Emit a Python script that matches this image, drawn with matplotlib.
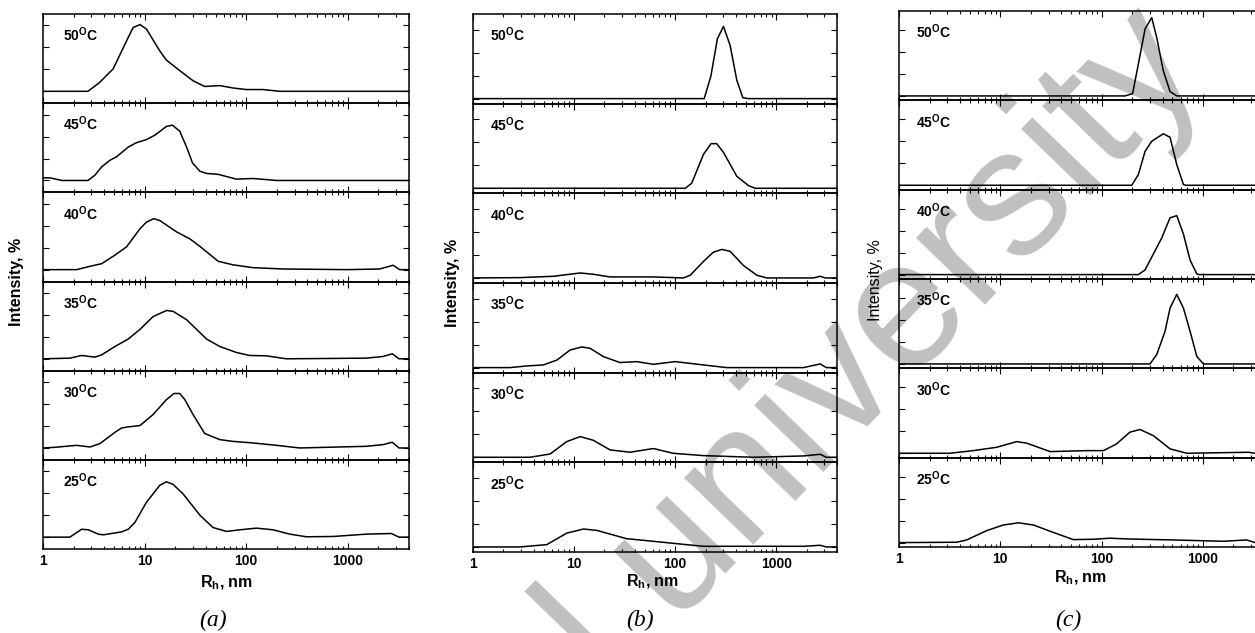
import matplotlib
matplotlib.use("Agg")
import matplotlib.pyplot as plt
from matplotlib.ticker import LogLocator, NullFormatter

plt.rcParams["font.family"] = "Liberation Sans"
plt.rcParams["mathtext.fontset"] = "custom"
plt.rcParams["mathtext.rm"] = "Liberation Sans"
plt.rcParams["mathtext.bf"] = "Liberation Sans:bold"
plt.rcParams["mathtext.it"] = "Liberation Sans:italic"

temps = ["50", "45", "40", "35", "30", "25"]
tick_vals = [1, 10, 100, 1000]
tick_text = ["1", "10", "100", "1000"]

# ---- panel (a) ----
a50_rh = [1, 2.77, 3.6, 4.9, 6.65, 7.7, 9.0, 10.4, 14.1, 16.4, 22.2, 30, 39, 55, 74, 100, 146, 214, 4000]
a50_i = [0, 0, 2.0, 5.1, 11.5, 14.5, 15.2, 14.2, 9.2, 7.1, 4.7, 2.4, 1.1, 1.3, 0.76, 0.4, 0.4, 0, 0]
a45_rh = [1, 1.17, 1.53, 2.77, 3.24, 3.78, 4.56, 5.3, 6.9, 8.3, 10.4, 12.6, 16.4, 18.8, 22.2, 25.9, 29.6, 35, 40.7, 53, 80, 117, 199, 4000]
a45_i = [0.6, 0.6, 0, 0, 1.2, 3.1, 4.6, 5.4, 7.6, 8.6, 9.3, 10.3, 12.3, 12.6, 11.2, 7.6, 4.0, 2.1, 1.6, 1.4, 0.3, 0.45, 0, 0]
a40_rh = [1, 2.14, 2.9, 3.78, 5.1, 6.65, 9.0, 10.4, 12.3, 14.1, 20.6, 27.9, 35, 53, 74, 117, 231, 1000, 2060, 2790, 3240, 4000]
a40_i = [0, 0, 0.76, 1.36, 3.3, 5.2, 9.3, 10.8, 11.6, 11.2, 8.6, 7.0, 5.3, 1.9, 1.1, 0.45, 0.15, 0, 0.15, 1.0, 0, 0]
a35_rh = [1, 1.84, 2.4, 3.24, 3.78, 5.1, 6.9, 9.0, 12.1, 16.4, 19.1, 25.9, 40.7, 55, 80, 108, 158, 249, 1520, 2220, 2740, 3190, 4000]
a35_i = [0, 0.15, 0.76, 0.38, 0.9, 2.8, 4.5, 6.7, 9.6, 11.0, 10.8, 8.9, 4.5, 2.8, 1.44, 0.76, 0.68, 0, 0.15, 0.53, 1.14, 0, 0]
a30_rh = [1, 1.31, 2.14, 2.9, 3.63, 5.1, 5.94, 6.9, 9.0, 12.1, 16.4, 19.4, 22.2, 24.9, 30, 39, 55, 74, 117, 199, 337, 1520, 2220, 2740, 3190, 4000]
a30_i = [0, 0.15, 0.6, 0.23, 1.0, 3.56, 4.55, 4.8, 5.1, 7.6, 11.0, 12.4, 12.4, 11.0, 7.6, 3.3, 1.9, 1.5, 1.14, 0.6, 0, 0.38, 0.76, 1.3, 0, 0]
a25_rh = [1, 1.84, 2.4, 2.8, 3.5, 3.92, 5.94, 6.9, 8.0, 10.4, 14.1, 16.4, 19.1, 24, 35, 47, 64, 86.5, 126, 184, 269, 392, 716, 1520, 2680, 3190, 4000]
a25_i = [0, 0, 1.8, 1.67, 0.68, 0.53, 1.2, 1.8, 3.3, 7.9, 11.8, 12.6, 12.0, 9.8, 5.0, 2.2, 1.3, 1.67, 2.05, 1.67, 0.68, 0.08, 0.15, 0.68, 0.83, 0, 0]

# ---- panel (b) ----
b50_rh = [1, 194, 226, 262, 301, 350, 408, 468, 532, 4000]
b50_i = [0, 0, 4.9, 13.0, 15.7, 11.6, 4.0, 0.2, 0, 0]
b45_rh = [1, 126, 146, 191, 227, 258, 301, 408, 532, 620, 4000]
b45_i = [0, 0, 1.1, 7.4, 9.7, 9.7, 7.8, 2.6, 0.58, 0, 0]
b40_rh = [1, 2.92, 6.24, 11.5, 15.5, 22.7, 61, 121, 141, 191, 239, 290, 350, 475, 645, 810, 2340, 2730, 3050, 4000]
b40_i = [0, 0.07, 0.36, 1.08, 0.8, 0.22, 0.22, 0, 0.58, 3.6, 5.6, 6.2, 5.8, 2.7, 0.58, 0, 0, 0.36, 0, 0]
b35_rh = [1, 2.32, 3.4, 4.97, 6.8, 9.1, 11.9, 14.4, 19.5, 28.5, 41.7, 61, 100, 191, 325, 1860, 2730, 3130, 4000]
b35_i = [0, 0, 0.36, 0.58, 1.66, 3.8, 4.5, 4.2, 2.4, 1.1, 1.3, 0.72, 1.3, 0.58, 0, 0, 0.8, 0, 0]
b30_rh = [1, 3.66, 5.8, 8.45, 11.5, 15.5, 22.7, 35.8, 61, 96, 191, 596, 1860, 2730, 3130, 4000]
b30_i = [0, 0, 0.72, 3.4, 4.5, 3.7, 1.6, 1.1, 1.9, 0.86, 0.36, 0, 0.29, 0.65, 0, 0]
b25_rh = [1, 2.92, 5.37, 8.45, 12.4, 16.8, 33, 71, 129, 191, 596, 1860, 2730, 3130, 4000]
b25_i = [0, 0, 0.5, 3.0, 3.9, 3.6, 1.8, 1.08, 0.5, 0.14, 0.14, 0.14, 0.36, 0, 0]

# ---- panel (c) ----
c50_rh = [1, 170, 202, 230, 268, 312, 349, 406, 473, 551, 4000]
c50_i = [0, 0, 0.53, 7.2, 15.2, 17.8, 13.3, 5.7, 1.0, 0, 0]
c45_rh = [1, 198, 230, 268, 312, 406, 473, 551, 641, 680, 4000]
c45_i = [0, 0, 2.4, 7.7, 10.0, 11.7, 10.9, 4.7, 0.15, 0, 0]
c40_rh = [1, 230, 268, 324, 391, 473, 551, 641, 746, 869, 920, 4000]
c40_i = [0, 0, 1.06, 4.7, 8.3, 12.9, 13.4, 9.2, 3.3, 0.15, 0, 0]
c35_rh = [1, 300, 349, 422, 473, 551, 641, 746, 869, 1010, 4000]
c35_i = [0, 0, 2.1, 7.4, 12.7, 15.8, 12.7, 7.4, 1.7, 0, 0]
c30_rh = [1, 3.18, 5.4, 9.2, 14.5, 18.2, 31, 71, 104, 140, 190, 239, 324, 473, 692, 2810, 3250, 4000]
c30_i = [0, 0, 0.6, 1.36, 2.65, 2.3, 0.38, 0.6, 0.6, 2.1, 4.8, 5.4, 4.0, 1.0, 0, 0.23, 0, 0]
c25_rh = [1, 3.7, 4.65, 7.3, 10.7, 15.1, 21.2, 33, 52.5, 83, 121, 177, 510, 1580, 2700, 3270, 4000]
c25_i = [0, 0.08, 0.6, 2.7, 4.0, 4.5, 4.0, 2.35, 0.68, 0.76, 1.0, 0.83, 0.6, 0.3, 0.6, 0, 0]

panels = [
    dict(curves=[(a50_rh, a50_i), (a45_rh, a45_i), (a40_rh, a40_i),
                 (a35_rh, a35_i), (a30_rh, a30_i), (a25_rh, a25_i)],
         box=(43, 409, 14, 549), ylim=(-2.7, 17.6), lab_dx=20,
         ylab=(17, 282, "bold"), xlab=(226, 583), cap=(213, 620, "(a)")),
    dict(curves=[(b50_rh, b50_i), (b45_rh, b45_i), (b40_rh, b40_i),
                 (b35_rh, b35_i), (b30_rh, b30_i), (b25_rh, b25_i)],
         box=(473, 837, 14, 552), ylim=(-1.1, 18.4), lab_dx=17,
         ylab=(452, 283, "bold"), xlab=(652, 582), cap=(640, 620, "(b)")),
    dict(curves=[(c50_rh, c50_i), (c45_rh, c45_i), (c40_rh, c40_i),
                 (c35_rh, c35_i), (c30_rh, c30_i), (c25_rh, c25_i)],
         box=(899, 1264, 11, 547), ylim=(-1.0, 19.3), lab_dx=17,
         ylab=(875, 280, "normal"), xlab=(1080, 578), cap=(1068, 620, "(c)")),
]

W, H = 1255, 633
fig = plt.figure(figsize=(W / 100, H / 100), dpi=100)

# watermark behind everything
fig.text(612 / W, 1 - 692 / H, "l university", rotation=46, rotation_mode="anchor",
         ha="left", va="baseline", fontsize=131, color="#c0c0c0", zorder=-1)

for p in panels:
    l, r, t, b = p["box"]
    h = (b - t) / 6
    for i, (rh, inten) in enumerate(p["curves"]):
        top = t + i * h
        ax = fig.add_axes([l / W, 1 - (top + h) / H, (r - l) / W, h / H])
        ax.patch.set_alpha(0)
        ax.plot(rh, inten, color="black", lw=1.1)
        ax.set_xscale("log")
        ax.set_xlim(1, 4000)
        ax.set_ylim(*p["ylim"])
        ax.set_yticks([0, 5, 10, 15])
        ax.set_xticks(tick_vals)
        ax.xaxis.set_minor_locator(LogLocator(base=10, subs=range(2, 10), numticks=20))
        ax.xaxis.set_minor_formatter(NullFormatter())
        ax.tick_params(which="both", direction="in", top=True, right=True,
                       labelleft=False, width=0.8)
        ax.tick_params(which="major", length=4)
        ax.tick_params(which="minor", length=2.2)
        for s in ax.spines.values():
            s.set_linewidth(1.1)
        if i == 5:
            ax.set_xticklabels(tick_text, fontweight="bold", fontsize=10)
            ax.tick_params(axis="x", pad=3.5)
        else:
            ax.tick_params(labelbottom=False)
        ax.annotate(rf"$\mathbf{{{temps[i]}^{{O}}C}}$", xy=(0, 1), xycoords="axes fraction",
                    xytext=(p["lab_dx"], -21), textcoords="offset pixels",
                    ha="left", va="center", fontsize=10)

    yx, yy, yw = p["ylab"]
    fig.text(yx / W, 1 - yy / H, "Intensity, %", rotation=90, ha="center", va="center",
             fontsize=11.5, fontweight=yw)
    xx, xy = p["xlab"]
    fig.text(xx / W, 1 - xy / H, r"$\mathbf{R_h}$, nm", ha="center", va="center",
             fontsize=11.5, fontweight="bold")
    cx, cy, ct = p["cap"]
    fig.text(cx / W, 1 - cy / H, ct, ha="center", va="center", fontsize=17,
             family="Liberation Serif", style="italic")

fig.savefig("out.png", dpi=100)
